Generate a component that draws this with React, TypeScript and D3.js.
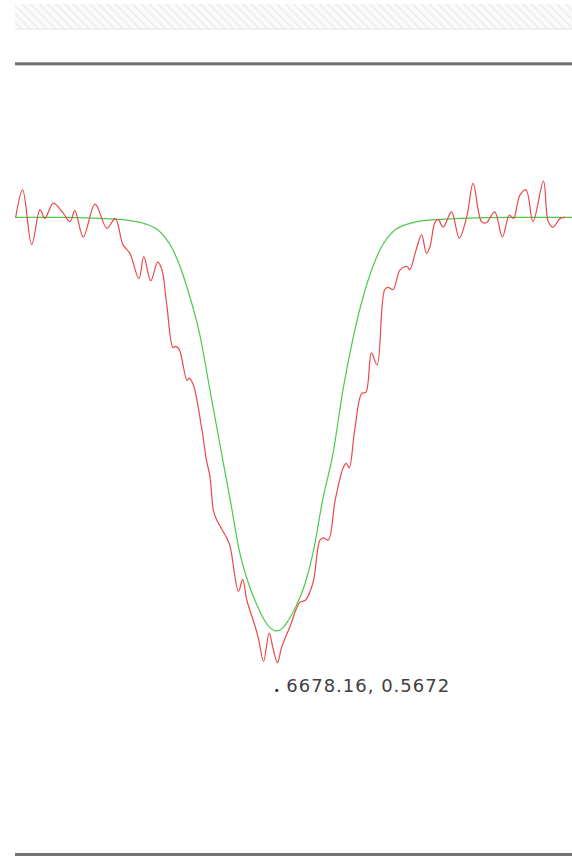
import React from "react";
import * as d3 from "d3";

// Observed spectrum around He I 6678 (wavelength in Å, normalised flux)
const obsWavelength = [
  6674.41, 6674.51, 6674.64, 6674.76, 6674.83, 6674.95, 6675.09, 6675.19, 6675.26, 6675.38,
  6675.55, 6675.72, 6675.84, 6675.95, 6676.05, 6676.18, 6676.25, 6676.35, 6676.45, 6676.51,
  6676.58, 6676.67, 6676.71, 6676.76, 6676.87, 6676.9, 6676.96, 6677.08, 6677.15, 6677.2,
  6677.25, 6677.3, 6677.44, 6677.49, 6677.61, 6677.67, 6677.73, 6677.85, 6677.9, 6677.97,
  6678.05, 6678.11, 6678.17, 6678.23, 6678.35, 6678.49, 6678.57, 6678.68, 6678.78, 6678.83,
  6678.9, 6679.0, 6679.12, 6679.16, 6679.2, 6679.28, 6679.38, 6679.44, 6679.52, 6679.6,
  6679.71, 6679.76, 6679.83, 6679.93, 6680.03, 6680.07, 6680.16, 6680.24, 6680.31, 6680.36,
  6680.43, 6680.48, 6680.55, 6680.67, 6680.78, 6680.89, 6680.98, 6681.1, 6681.17, 6681.29,
  6681.4, 6681.5, 6681.56, 6681.65, 6681.74, 6681.84, 6681.99, 6682.06, 6682.13, 6682.23,
  6682.3,
];
const obsFlux = [
  1.001, 1.026, 0.976, 1.008, 1.0, 1.014, 1.005, 0.997, 1.007, 0.983,
  1.013, 0.991, 1.0, 0.976, 0.968, 0.945, 0.965, 0.943, 0.96, 0.953,
  0.921, 0.882, 0.883, 0.88, 0.852, 0.854, 0.848, 0.809, 0.779, 0.764,
  0.733, 0.724, 0.708, 0.7, 0.659, 0.67, 0.651, 0.627, 0.615, 0.595,
  0.621, 0.606, 0.594, 0.608, 0.627, 0.649, 0.651, 0.667, 0.706, 0.708,
  0.706, 0.743, 0.773, 0.776, 0.772, 0.807, 0.84, 0.841, 0.877, 0.866,
  0.935, 0.937, 0.935, 0.953, 0.956, 0.953, 0.971, 0.985, 0.968, 0.974,
  0.996, 0.999, 0.992, 1.006, 0.982, 1.002, 1.032, 0.997, 0.996, 1.006,
  0.983, 1.003, 1.0, 1.021, 1.026, 0.997, 1.034, 0.997, 0.992, 1.0,
  1.001,
];

// Fitted model profile
const modelWavelength = [
  6674.4, 6675.05, 6675.62, 6676.05, 6676.27, 6676.44, 6676.55, 6676.67, 6676.77, 6676.88,
  6677.06, 6677.2, 6677.37, 6677.49, 6677.63, 6677.75, 6677.88, 6677.99, 6678.06, 6678.16,
  6678.25, 6678.32, 6678.44, 6678.57, 6678.68, 6678.82, 6678.97, 6679.11, 6679.26, 6679.43,
  6679.54, 6679.64, 6679.76, 6679.87, 6680.05, 6680.26, 6680.79, 6681.65, 6682.4,
];
const modelFlux = [
  1.001, 1.001, 1.0, 0.998, 0.995, 0.99, 0.983, 0.971, 0.956, 0.935,
  0.892, 0.843, 0.784, 0.743, 0.694, 0.667, 0.646, 0.632, 0.626, 0.623,
  0.626, 0.632, 0.646, 0.667, 0.694, 0.743, 0.786, 0.843, 0.892, 0.935,
  0.956, 0.971, 0.983, 0.99, 0.995, 0.998, 1.0, 1.001, 1.001,
];

// Cursor readout
const cursorWavelength = 6678.16;
const cursorFlux = 0.5672;

const WIDTH = 572;
const HEIGHT = 856;
const plotLeft = 15;
const plotRight = 572;
const plotTop = 63;
const plotBottom = 853;

export default function App() {
  const x = d3.scaleLinear().domain([6674.4, 6682.4]).range([plotLeft, plotRight]);
  const y = d3.scaleLinear().domain([0.42, 1.142]).range([plotBottom, plotTop]);

  const obs = obsWavelength.map((w, i) => [w, obsFlux[i]] as [number, number]);
  const model = modelWavelength.map((w, i) => [w, modelFlux[i]] as [number, number]);

  const obsLine = d3
    .line<[number, number]>()
    .x((d) => x(d[0]))
    .y((d) => y(d[1]))
    .curve(d3.curveCatmullRom.alpha(0.5));

  const modelLine = d3
    .line<[number, number]>()
    .x((d) => x(d[0]))
    .y((d) => y(d[1]))
    .curve(d3.curveMonotoneX);

  const cx = x(cursorWavelength);
  const cy = y(cursorFlux);

  return (
    <svg
      width={WIDTH}
      height={HEIGHT}
      style={{ position: "absolute", left: 0, top: 0, background: "#fff" }}
    >
      <defs>
        <pattern
          id="hatch"
          width="6"
          height="6"
          patternUnits="userSpaceOnUse"
          patternTransform="rotate(-45)"
        >
          <rect width="6" height="6" fill="#fbfbfb" />
          <line x1="0" y1="0" x2="0" y2="6" stroke="#ececec" strokeWidth="3" />
        </pattern>
        <clipPath id="plotClip">
          <rect x={plotLeft} y={plotTop} width={plotRight - plotLeft} height={plotBottom - plotTop} />
        </clipPath>
      </defs>

      {/* toolbar strip */}
      <rect x={plotLeft} y={4} width={WIDTH - plotLeft} height={25} fill="url(#hatch)" />
      <rect x={plotLeft} y={28.5} width={WIDTH - plotLeft} height={1} fill="#e6e6e6" />

      {/* frame rules */}
      <rect x={plotLeft} y={62} width={WIDTH - plotLeft} height={1} fill="#9a9a9a" />
      <rect x={plotLeft} y={63} width={WIDTH - plotLeft} height={2} fill="#6f6f6f" />
      <rect x={plotLeft} y={65} width={WIDTH - plotLeft} height={1} fill="#cfcfcf" />
      <rect x={plotLeft} y={853} width={WIDTH - plotLeft} height={3} fill="#737373" />

      <g clipPath="url(#plotClip)">
        <path d={modelLine(model) ?? ""} fill="none" stroke="#4cc94c" strokeWidth={1.2} />
        <path d={obsLine(obs) ?? ""} fill="none" stroke="#ec4848" strokeWidth={1.2} />
      </g>

      <circle cx={cx} cy={cy - 1.5} r={1.6} fill="#3a3a3a" />
      <text
        x={cx + 9.5}
        y={cy}
        fontFamily="DejaVu Sans"
        fontSize={18}
        letterSpacing={1}
        fill="#404040"
      >
        {`${cursorWavelength.toFixed(2)}, ${cursorFlux.toFixed(4)}`}
      </text>
    </svg>
  );
}
